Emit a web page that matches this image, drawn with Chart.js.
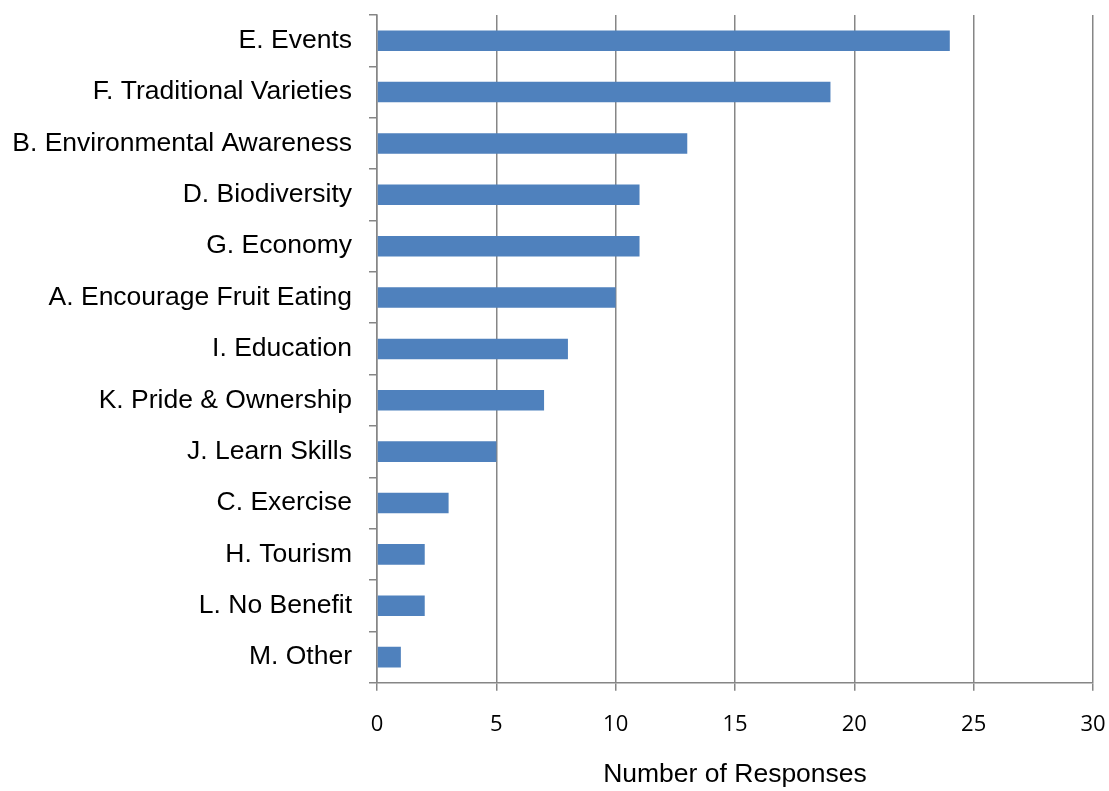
<!DOCTYPE html>
<html>
<head>
<meta charset="utf-8">
<script src="https://cdn.jsdelivr.net/npm/chart.js@4"></script>
<style>
  html, body { margin: 0; padding: 0; background: #fff; }
  #wrap { width: 1109px; height: 791px; position: relative; }
</style>
</head>
<body>
<div id="wrap"><canvas id="benefitsChart"></canvas></div>
<script>
// Chart data
const categories = [
    "E. Events", "F. Traditional Varieties", "B. Environmental Awareness", "D. Biodiversity",
    "G. Economy", "A. Encourage Fruit Eating", "I. Education", "K. Pride & Ownership",
    "J. Learn Skills", "C. Exercise", "H. Tourism", "L. No Benefit", "M. Other"
];
const responses = [24, 19, 13, 11, 11, 10, 8, 7, 5, 3, 2, 2, 1];
const xTicks = [0, 5, 10, 15, 20, 25, 30];
const axisTitle = "Number of Responses";

const gridColor = "#868686";

document.addEventListener("DOMContentLoaded", function () {
    const ctx = document.getElementById("benefitsChart").getContext("2d");
    new Chart(ctx, {
        type: "bar",
        data: {
            labels: categories,
            datasets: [{
                data: responses,
                backgroundColor: "#4F81BD",
                borderWidth: 0,
                barPercentage: 0.4,
                categoryPercentage: 1.0
            }]
        },
        options: {
            indexAxis: "y",
            responsive: true,
            maintainAspectRatio: false,
            animation: false,
            layout: { padding: { top: 15, right: 0, left: 2, bottom: 0 } },
            plugins: {
                legend: { display: false },
                tooltip: { enabled: false }
            },
            scales: {
                x: {
                    min: xTicks[0],
                    max: xTicks[xTicks.length - 1],
                    afterBuildTicks: function (axis) {
                        axis.ticks = xTicks.map(v => ({ value: v }));
                    },
                    afterFit: function (scale) {
                        // only leave room for half of the "30" label
                        scale.paddingRight = 16;
                        scale.paddingLeft = 0;
                    },
                    grid: {
                        color: gridColor,
                        lineWidth: 1.5,
                        tickLength: 8
                    },
                    border: { color: gridColor, width: 1.5 },
                    ticks: {
                        color: "#000",
                        padding: 21,
                        font: { family: "Open Sans", size: 22 }
                    },
                    title: {
                        display: true,
                        text: axisTitle,
                        color: "#000",
                        padding: { top: 0, bottom: 0 },
                        font: { family: "Liberation Sans", size: 26.5 }
                    }
                },
                y: {
                    afterFit: function (scale) {
                        scale.width = 375;
                        scale.paddingTop = 0;
                        scale.paddingBottom = 0;
                    },
                    grid: {
                        offset: true,
                        drawOnChartArea: false,
                        color: gridColor,
                        lineWidth: 1.5,
                        tickLength: 8
                    },
                    border: { color: gridColor, width: 1.5 },
                    ticks: {
                        color: "#000",
                        padding: 17,
                        autoSkip: false,
                        font: { family: "Liberation Sans", size: 26.5 }
                    }
                }
            }
        }
    });
});
</script>
</body>
</html>
